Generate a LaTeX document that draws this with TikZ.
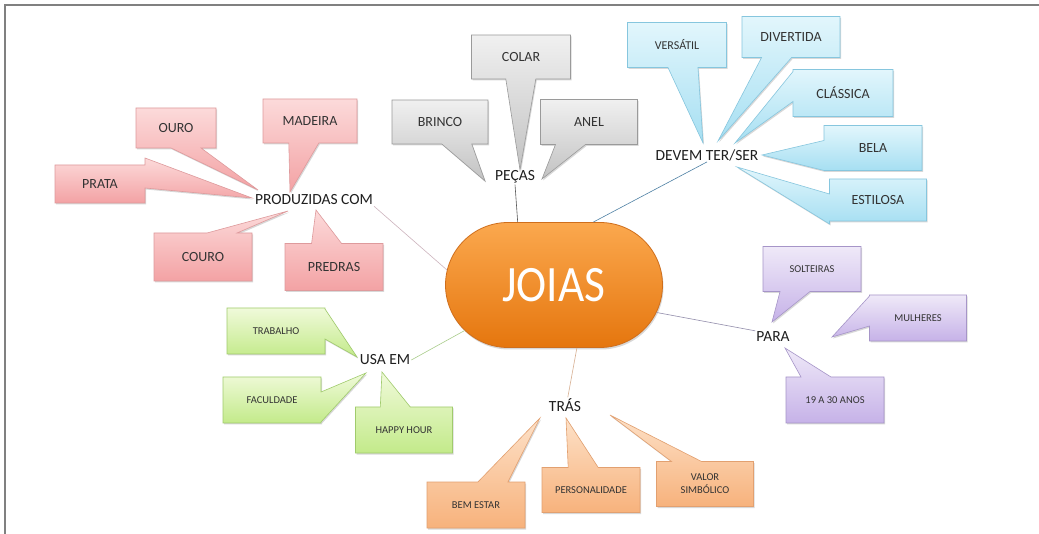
\documentclass[tikz,border=0pt]{standalone}
\usepackage{fontspec}
\setmainfont{Carlito}
\usetikzlibrary{shapes.callouts,shapes.misc,shadows}
\definecolor{labelgray}{HTML}{333333}
\definecolor{pinkT}{HTML}{FCDADA}\definecolor{pinkD}{HTML}{F3A2A4}\definecolor{pinkB}{HTML}{DE9A9C}
\definecolor{grayT}{HTML}{F0F0F0}\definecolor{grayD}{HTML}{C2C2C2}\definecolor{grayB}{HTML}{9A9A9A}
\definecolor{blueT}{HTML}{E2F6FC}\definecolor{blueD}{HTML}{A6DFF2}\definecolor{blueB}{HTML}{86C6DE}
\definecolor{greenT}{HTML}{F0FADA}\definecolor{greenD}{HTML}{C3EA8A}\definecolor{greenB}{HTML}{A0CB6C}
\definecolor{orT}{HTML}{FDE1C8}\definecolor{orD}{HTML}{F7B27C}\definecolor{orB}{HTML}{E2A070}
\definecolor{purT}{HTML}{EFE9F8}\definecolor{purD}{HTML}{C6B2E8}\definecolor{purB}{HTML}{A695C8}
\definecolor{joiT}{HTML}{FBA84E}\definecolor{joiD}{HTML}{E5760E}\definecolor{joiB}{HTML}{CF6E1C}
\tikzset{
  cbox/.style={rectangle callout, callout pointer width=30pt, inner sep=0pt,
    align=center, text=labelgray, line width=0.6pt,
    minimum width=98pt, minimum height=45pt,
    drop shadow={shadow xshift=1pt, shadow yshift=-1.5pt, opacity=0.3}},
  pinkbox/.style={cbox, draw=pinkB, top color=pinkT, bottom color=pinkD, font=\fontsize{14}{16}\selectfont},
  graybox/.style={cbox, draw=grayB, top color=grayT, bottom color=grayD, font=\fontsize{14}{16}\selectfont},
  bluebox/.style={cbox, draw=blueB, top color=blueT, bottom color=blueD, font=\fontsize{14}{16}\selectfont},
  greenbox/.style={cbox, draw=greenB, top color=greenT, bottom color=greenD, font=\fontsize{10.5}{13}\selectfont},
  orbox/.style={cbox, draw=orB, top color=orT, bottom color=orD, font=\fontsize{10.5}{13}\selectfont},
  purbox/.style={cbox, draw=purB, top color=purT, bottom color=purD, font=\fontsize{10.5}{13}\selectfont},
  hub/.style={font=\fontsize{15.5}{18}\selectfont, text=black!88, inner sep=1pt},
  link/.style={line width=0.6pt},
}
\begin{document}
\begin{tikzpicture}[x=1pt,y=-1pt]
\useasboundingbox (0,0) rectangle (1039,534);
\fill[white] (0,0) rectangle (1039,534);
\draw[black!50, line width=1.6pt] (5,534) -- (5,5) -- (1039,5);

% hubs
\node[hub] (prod) at (314,200) {PRODUZIDAS COM};
\node[hub] (pecas) at (515,177) {PEÇAS};
\node[hub] (devem) at (707,155) {DEVEM TER/SER};
\node[hub] (usa) at (385,360) {USA EM};
\node[hub] (tras) at (565,405) {TRÁS};
\node[hub] (para) at (773,337) {PARA};

% pointer tips
\coordinate (tOuro) at (258,190);
\coordinate (tMadeira) at (290,192);
\coordinate (tPrata) at (252,198);
\coordinate (tCouro) at (288,211);
\coordinate (tPredras) at (316,210);
\coordinate (tColar) at (520,170);
\coordinate (tBrinco) at (485,181);
\coordinate (tAnel) at (542,179);
\coordinate (tVersatil) at (703,143);
\coordinate (tDivertida) at (718,141);
\coordinate (tClassica) at (735,143);
\coordinate (tBela) at (762,155);
\coordinate (tEstilosa) at (737,167);
\coordinate (tTrabalho) at (357,357);
\coordinate (tFaculdade) at (366,373);
\coordinate (tHappy) at (382,372);
\coordinate (tBem) at (540,418);
\coordinate (tPers) at (566,418);
\coordinate (tValor) at (610,415);
\coordinate (tSolt) at (772,322);
\coordinate (tMulh) at (832,337);
\coordinate (tAnos) at (785,348);

% pink
\node[pinkbox, minimum width=80pt, minimum height=40pt, callout absolute pointer={(tOuro)}] (ouro) at (176,128) {OURO};
\node[pinkbox, minimum width=94pt, minimum height=44pt, callout absolute pointer={(tMadeira)}] (madeira) at (310,121) {MADEIRA};
\node[pinkbox, minimum width=90pt, minimum height=38pt, callout absolute pointer={(tPrata)}] (prata) at (100,184) {PRATA};
\node[pinkbox, minimum height=48pt, callout absolute pointer={(tCouro)}] (couro) at (203,257) {COURO};
\node[pinkbox, minimum height=47pt, callout absolute pointer={(tPredras)}] (predras) at (334,267) {PREDRAS};

% gray
\node[graybox, minimum width=99pt, minimum height=44pt, callout absolute pointer={(tColar)}] (colar) at (521,57) {COLAR};
\node[graybox, minimum width=96pt, minimum height=44pt, callout absolute pointer={(tBrinco)}] (brinco) at (440,122) {BRINCO};
\node[graybox, minimum width=97pt, callout absolute pointer={(tAnel)}] (anel) at (589,122) {ANEL};

% blue
\node[bluebox, minimum width=99pt, font=\fontsize{12}{14}\selectfont, callout absolute pointer={(tVersatil)}] (versatil) at (677,45) {VERSÁTIL};
\node[bluebox, minimum height=41pt, callout absolute pointer={(tDivertida)}] (divertida) at (791,37) {DIVERTIDA};
\node[bluebox, minimum width=100pt, minimum height=47pt, callout absolute pointer={(tClassica)}] (classica) at (843,93) {CLÁSSICA};
\node[bluebox, callout absolute pointer={(tBela)}] (bela) at (873,148) {BELA};
\node[bluebox, minimum width=97pt, minimum height=42pt, callout absolute pointer={(tEstilosa)}] (estilosa) at (878,200) {ESTILOSA};

% green
\node[greenbox, minimum height=46pt, callout absolute pointer={(tTrabalho)}] (trabalho) at (276,331) {TRABALHO};
\node[greenbox, minimum height=46pt, callout absolute pointer={(tFaculdade)}] (faculdade) at (272,400) {FACULDADE};
\node[greenbox, minimum width=97pt, minimum height=46pt, callout absolute pointer={(tHappy)}] (happy) at (404,430) {HAPPY HOUR};

% orange
\node[orbox, minimum height=46pt, callout absolute pointer={(tBem)}] (bem) at (476,505) {BEM ESTAR};
\node[orbox, callout absolute pointer={(tPers)}] (pers) at (591,490) {PERSONALIDADE};
\node[orbox, minimum width=97pt, callout absolute pointer={(tValor)}] (valor) at (705,484) {VALOR\\SIMBÓLICO};

% purple
\node[purbox, callout absolute pointer={(tSolt)}] (solt) at (812,269) {SOLTEIRAS};
\node[purbox, minimum width=97pt, minimum height=46pt, callout absolute pointer={(tMulh)}] (mulh) at (918,318) {MULHERES};
\node[purbox, minimum height=46pt, callout absolute pointer={(tAnos)}] (anos) at (835,400) {19 A 30 ANOS};

% central node
\node[rounded rectangle, minimum width=217pt, minimum height=125pt, inner sep=0pt,
  top color=joiT, bottom color=joiD, draw=joiB, line width=0.8pt,
  drop shadow={shadow xshift=1pt, shadow yshift=-2pt, opacity=0.3},
  text=white, font=\fontsize{51}{56}\selectfont] (joias) at (554,285)
  {\scalebox{0.89}[1]{JOIAS}};

% connectors
\draw[link, draw={rgb,255:red,205;green,180;blue,190}] (prod.south east) -- (joias.172);
\draw[link, draw=black!65] (pecas.south) -- (joias.120);
\draw[link, draw={rgb,255:red,80;green,130;blue,165}] (devem.south) -- (joias.58);
\draw[link, draw={rgb,255:red,170;green,205;blue,140}] (usa.east) -- (joias.207);
\draw[link, draw={rgb,255:red,215;green,175;blue,145}] (tras.70) -- (joias.290);
\draw[link, draw={rgb,255:red,145;green,140;blue,170}] (para.north west) -- (joias.345);
\end{tikzpicture}
\end{document}
